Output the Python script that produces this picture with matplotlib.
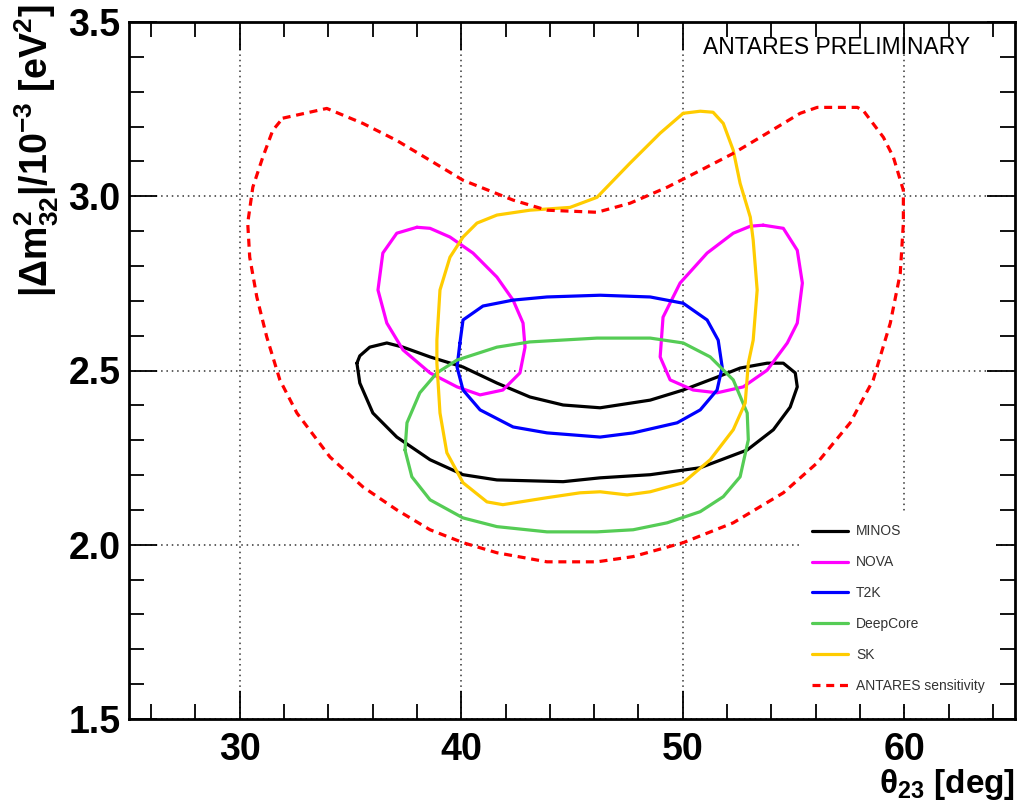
import numpy as np
import matplotlib.pyplot as plt
from matplotlib.ticker import MultipleLocator

plt.rcParams['font.family'] = ['Liberation Sans', 'DejaVu Sans']
plt.rcParams['mathtext.fontset'] = 'custom'
plt.rcParams['mathtext.rm'] = 'Liberation Sans:bold'
plt.rcParams['mathtext.it'] = 'Liberation Sans:italic'
plt.rcParams['mathtext.bf'] = 'Liberation Sans:bold'

# contour data: theta23 [deg], |dm2_32| [1e-3 eV^2]
minos_th = [35.29, 35.42, 36.01, 37.09, 38.59, 40.08, 41.61, 44.60, 46.27, 48.53, 50.79, 52.91,
            54.09, 54.85, 55.17, 55.08, 54.54, 53.81, 52.59, 51.55, 50.02, 48.53, 46.27, 44.60,
            43.10, 41.61, 40.08, 38.59, 37.37, 36.64, 35.87, 35.42]
minos_dm = [2.521, 2.464, 2.378, 2.309, 2.244, 2.201, 2.186, 2.181, 2.192, 2.201, 2.221, 2.272,
            2.330, 2.395, 2.453, 2.493, 2.521, 2.521, 2.507, 2.481, 2.444, 2.415, 2.393, 2.401,
            2.424, 2.464, 2.510, 2.539, 2.567, 2.579, 2.567, 2.542]

nova1_th = [38.00, 37.09, 36.46, 36.24, 36.64, 37.37, 38.59, 39.81, 40.85, 41.88, 42.65, 42.88,
            42.79, 42.34, 41.61, 40.53, 39.49, 38.59]
nova1_dm = [2.911, 2.894, 2.837, 2.731, 2.636, 2.559, 2.493, 2.453, 2.430, 2.444, 2.493, 2.567,
            2.636, 2.702, 2.768, 2.837, 2.883, 2.908]

nova2_th = [53.63, 54.54, 55.17, 55.40, 55.17, 54.72, 53.81, 52.73, 51.55, 50.47, 49.43, 48.98,
            49.11, 49.88, 51.10, 52.28, 53.05]
nova2_dm = [2.917, 2.908, 2.845, 2.751, 2.636, 2.579, 2.501, 2.453, 2.436, 2.444, 2.473, 2.539,
            2.653, 2.751, 2.837, 2.894, 2.914]

t2k_th = [39.94, 40.08, 40.98, 42.34, 43.87, 46.27, 48.53, 50.02, 51.10, 51.60, 51.78, 51.55,
          50.79, 49.75, 47.76, 46.27, 43.87, 42.34, 40.85, 40.08, 39.81]
t2k_dm = [2.579, 2.645, 2.685, 2.702, 2.711, 2.716, 2.711, 2.693, 2.645, 2.587, 2.510, 2.444,
          2.387, 2.350, 2.321, 2.309, 2.321, 2.338, 2.387, 2.444, 2.510]

deepcore_th = [37.46, 37.55, 38.13, 38.90, 39.81, 41.61, 43.10, 46.13, 48.53, 50.02, 51.24, 52.28,
               52.91, 52.96, 52.59, 51.83, 50.79, 49.30, 47.76, 46.13, 43.87, 41.61, 40.08, 38.59,
               37.77]
deepcore_dm = [2.272, 2.350, 2.436, 2.493, 2.530, 2.567, 2.582, 2.593, 2.593, 2.579, 2.539, 2.473,
               2.378, 2.301, 2.195, 2.138, 2.095, 2.063, 2.043, 2.037, 2.037, 2.052, 2.077, 2.129,
               2.195]

sk_th = [50.02, 50.79, 51.37, 51.83, 52.28, 52.59, 53.05, 53.18, 53.36, 53.18, 52.96, 52.82,
         52.28, 51.24, 50.02, 48.53, 47.49, 46.27, 45.36, 43.87, 41.88, 41.16, 40.08, 39.35,
         39.04, 38.90, 38.90, 39.04, 39.49, 40.08, 40.71, 41.61, 43.10, 44.91, 46.13, 47.62, 48.98]
sk_dm = [3.238, 3.244, 3.241, 3.209, 3.132, 3.037, 2.940, 2.874, 2.731, 2.587, 2.521, 2.407,
         2.330, 2.244, 2.178, 2.152, 2.143, 2.152, 2.149, 2.135, 2.115, 2.123, 2.178, 2.264,
         2.378, 2.521, 2.587, 2.731, 2.825, 2.883, 2.923, 2.946, 2.960, 2.968, 2.997, 3.095, 3.181]

antares_th = [31.94, 33.93, 35.56, 37.09, 38.59, 40.08, 42.34, 43.87, 46.13, 47.62, 49.30, 50.79,
              52.28, 53.81, 55.30, 56.07, 57.88, 58.15, 59.06, 59.51, 59.96, 59.96, 59.82, 59.37,
              58.60, 57.56, 56.07, 54.54, 52.28, 50.02, 47.76, 46.13, 43.87, 41.61, 40.08, 38.59,
              37.09, 35.56, 34.07, 32.58, 31.81, 31.22, 30.77, 30.45, 30.36, 30.59, 31.04, 31.49]
antares_dm = [3.224, 3.252, 3.209, 3.160, 3.103, 3.046, 2.989, 2.960, 2.954, 2.980, 3.026, 3.074,
              3.123, 3.181, 3.238, 3.255, 3.255, 3.246, 3.169, 3.112, 3.017, 2.923, 2.779, 2.636,
              2.473, 2.350, 2.235, 2.149, 2.063, 2.006, 1.966, 1.951, 1.951, 1.977, 2.006, 2.043,
              2.100, 2.166, 2.252, 2.378, 2.473, 2.596, 2.711, 2.825, 2.923, 3.026, 3.112, 3.189]


def closed(a):
    return list(a) + [a[0]]


fig = plt.figure(figsize=(10.18, 8.02), dpi=100)
ax = fig.add_axes([129 / 1018, 1 - 719 / 802, 886 / 1018, 697 / 802])

lw = 2.3
kw = dict(lw=lw, zorder=3, solid_joinstyle='round', solid_capstyle='round')
ax.plot(closed(minos_th), closed(minos_dm), color='black', label='MINOS', **kw)
ax.plot(closed(nova1_th), closed(nova1_dm), color='#ff00ff', label='NOVA', **kw)
ax.plot(closed(nova2_th), closed(nova2_dm), color='#ff00ff', **kw)
ax.plot(closed(t2k_th), closed(t2k_dm), color='#0000ff', label='T2K', **kw)
ax.plot(closed(deepcore_th), closed(deepcore_dm), color='#55cc55', label='DeepCore', **kw)
ax.plot(closed(sk_th), closed(sk_dm), color='#ffcc00', label='SK', **kw)
ax.plot(closed(antares_th), closed(antares_dm), color='#ff0000', lw=lw, ls=(0, (2.5, 1.8)),
        label='ANTARES sensitivity', zorder=3)

ax.set_xlim(25, 65)
ax.set_ylim(1.5, 3.5)
ax.set_xticks([30, 40, 50, 60])
ax.xaxis.set_minor_locator(MultipleLocator(2))
ax.yaxis.set_major_locator(MultipleLocator(0.5))
ax.yaxis.set_minor_locator(MultipleLocator(0.1))
ax.yaxis.set_major_formatter(plt.FormatStrFormatter('%.1f'))
ax.grid(True, which='major', color='#333333', ls=(0, (1, 2.5)), lw=1.1, zorder=1)

ax.tick_params(which='both', direction='in', top=True, right=True, width=1.3)
ax.tick_params(which='major', length=20, labelsize=27, pad=6)
ax.tick_params(axis='x', which='major', pad=9)
ax.tick_params(which='minor', length=11)
for lab in ax.get_xticklabels() + ax.get_yticklabels():
    lab.set_fontweight('bold')
for s in ax.spines.values():
    s.set_linewidth(2)

ax.text(0.949, 0.964, 'ANTARES PRELIMINARY', transform=ax.transAxes, ha='right', va='center',
        fontsize=16.5, color='black')

leg = ax.legend(loc='upper left', bbox_to_anchor=(0.750, 0.305), fontsize=10, frameon=True,
                facecolor='white', edgecolor='none', framealpha=1, fancybox=False,
                handlelength=2.6, handletextpad=0.6, labelspacing=1.22, borderpad=0.8)
for t in leg.get_texts():
    t.set_color('#333333')
leg.set_zorder(5)

fig.text(37 / 1018, 1 - 4 / 802, r'$|\Delta \mathrm{m}^{2}_{32}|/10^{-3}$ [eV$^{2}$]', rotation=90,
         ha='center', va='top', fontsize=27, fontweight='bold')
fig.text(1015 / 1018, 0, r'$\mathrm{θ}_{23}$ [deg]', ha='right', va='bottom',
         fontsize=24, fontweight='bold')

fig.savefig('out.png', dpi=100)
